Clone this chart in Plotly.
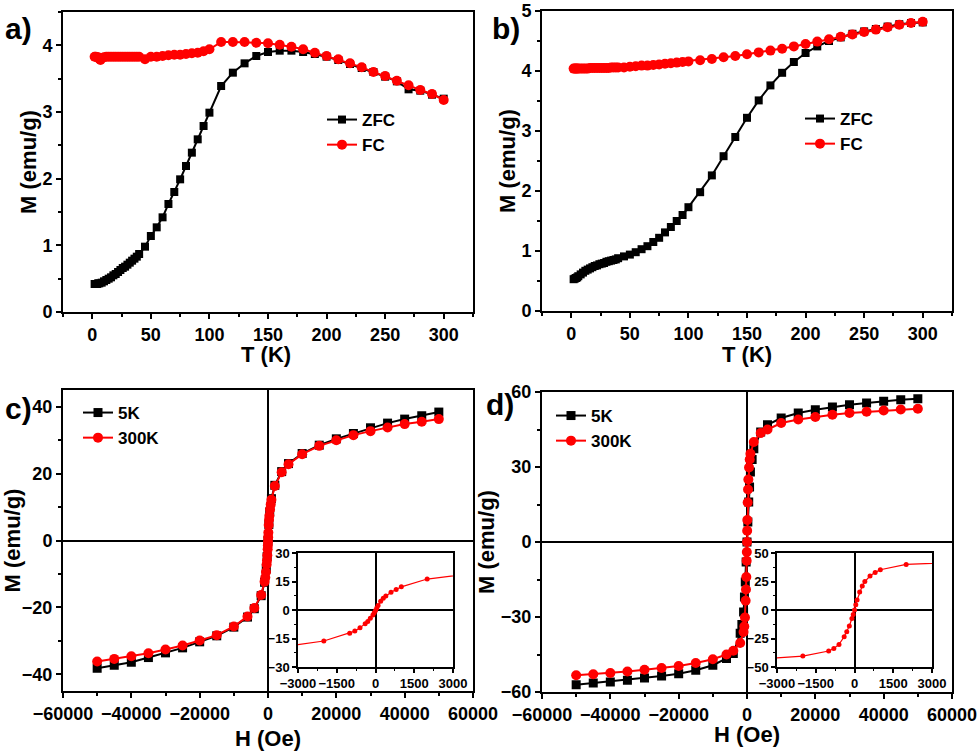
import plotly.graph_objects as go

# ====================================
# Data
# ====================================

# a) ZFC / FC, sample 1
T_a_zfc = [2, 3, 4, 5, 6, 8, 10, 12, 14, 16, 18, 20, 22, 24, 26, 28, 30, 32, 34, 36, 38, 40,
           45, 50, 55, 60, 65, 70, 75, 80, 85, 90, 95, 100, 110, 120, 130, 140, 150, 160,
           170, 180, 190, 200, 210, 220, 230, 240, 250, 260, 270, 280, 290, 300]
M_a_zfc = [0.42, 0.42, 0.42, 0.43, 0.43, 0.44, 0.46, 0.48, 0.50, 0.52, 0.55, 0.57, 0.60, 0.63,
           0.66, 0.68, 0.71, 0.74, 0.77, 0.80, 0.83, 0.87, 0.98, 1.14, 1.27, 1.42, 1.62, 1.80,
           1.99, 2.19, 2.39, 2.59, 2.79, 2.99, 3.39, 3.59, 3.73, 3.84, 3.90, 3.92, 3.92, 3.90,
           3.87, 3.83, 3.78, 3.72, 3.66, 3.60, 3.53, 3.46, 3.34, 3.32, 3.26, 3.20]

T_a_fc = [2, 3, 4, 5, 6, 7, 8, 10, 12, 14, 16, 18, 20, 22, 24, 26, 28, 30, 32, 34, 36, 38, 40,
          45, 50, 55, 60, 65, 70, 75, 80, 85, 90, 95, 100, 110, 120, 130, 140, 150, 160, 170,
          180, 190, 200, 210, 220, 230, 240, 250, 260, 270, 280, 290, 300]
M_a_fc = [3.83, 3.83, 3.82, 3.82, 3.80, 3.78, 3.81, 3.82, 3.83, 3.83, 3.83, 3.83, 3.83, 3.83,
          3.83, 3.83, 3.83, 3.83, 3.83, 3.83, 3.83, 3.83, 3.83, 3.79, 3.83, 3.83, 3.84, 3.85,
          3.86, 3.86, 3.87, 3.88, 3.89, 3.91, 3.94, 4.05, 4.05, 4.05, 4.04, 4.03, 4.01, 3.98,
          3.94, 3.89, 3.84, 3.79, 3.73, 3.67, 3.60, 3.54, 3.47, 3.40, 3.33, 3.27, 3.18]

# b) ZFC / FC, sample 2
T_b_zfc = [2, 3, 4, 5, 6, 8, 10, 12, 14, 16, 18, 20, 22, 24, 26, 28, 30, 32, 34, 36, 38, 40,
           45, 50, 55, 60, 65, 70, 75, 80, 85, 90, 95, 100, 110, 120, 130, 140, 150, 160,
           170, 180, 190, 200, 210, 220, 230, 240, 250, 260, 270, 280, 290, 300]
M_b_zfc = [0.53, 0.54, 0.55, 0.56, 0.58, 0.61, 0.64, 0.67, 0.69, 0.71, 0.73, 0.75, 0.76, 0.78,
           0.79, 0.80, 0.82, 0.83, 0.84, 0.85, 0.86, 0.88, 0.91, 0.94, 0.98, 1.03, 1.08, 1.15,
           1.22, 1.31, 1.40, 1.50, 1.60, 1.73, 1.98, 2.26, 2.58, 2.90, 3.22, 3.51, 3.76, 3.97,
           4.15, 4.30, 4.41, 4.50, 4.56, 4.62, 4.66, 4.70, 4.74, 4.78, 4.80, 4.81]

T_b_fc = [2, 3, 4, 5, 6, 8, 10, 12, 14, 16, 18, 20, 22, 24, 26, 28, 30, 32, 34, 36, 38, 40,
          45, 50, 55, 60, 65, 70, 75, 80, 85, 90, 95, 100, 110, 120, 130, 140, 150, 160,
          170, 180, 190, 200, 210, 220, 230, 240, 250, 260, 270, 280, 290, 300]
M_b_fc = [4.04, 4.04, 4.04, 4.04, 4.04, 4.04, 4.04, 4.04, 4.04, 4.05, 4.05, 4.05, 4.05, 4.05,
          4.05, 4.05, 4.05, 4.05, 4.06, 4.06, 4.06, 4.06, 4.06, 4.07, 4.08, 4.09, 4.09, 4.10,
          4.11, 4.12, 4.13, 4.14, 4.15, 4.16, 4.18, 4.20, 4.23, 4.25, 4.28, 4.31, 4.34, 4.37,
          4.41, 4.45, 4.49, 4.53, 4.57, 4.61, 4.65, 4.69, 4.73, 4.77, 4.80, 4.82]

# c) M-H, sample 1
H_c_5k = [-50000, -45000, -40000, -35000, -30000, -25000, -20000, -15000, -10000, -6000,
          -4000, -2000, -1000, -500, -250, 0, 250, 500, 1000, 2000, 4000, 6000, 10000, 15000,
          20000, 25000, 30000, 35000, 40000, 45000, 50000]
M_c_5k = [-38.2, -37.3, -36.4, -35.0, -33.6, -32.1, -30.3, -28.5, -25.9, -22.9, -20.4, -16.5,
          -12.5, -8.5, -4.8, 0.0, 4.8, 8.5, 12.5, 16.5, 20.6, 23.0, 26.0, 28.5, 30.4, 32.0,
          33.7, 35.1, 36.3, 37.3, 38.4]

H_c_300k = [-50000, -45000, -40000, -35000, -30000, -25000, -20000, -15000, -10000, -6000,
            -4000, -2000, -1000, -800, -600, -400, -300, -200, -100, -50, 0, 50, 100, 200,
            300, 400, 600, 800, 1000, 2000, 4000, 6000, 10000, 15000, 20000, 25000, 30000,
            35000, 40000, 45000, 50000]
M_c_300k = [-36.2, -35.4, -34.6, -33.7, -32.6, -31.4, -29.9, -28.3, -25.7, -22.7, -20.2, -16.3,
            -12.3, -11.1, -9.4, -7.2, -6.0, -4.4, -2.6, -1.5, -0.3, 1.0, 2.4, 4.6, 6.2, 7.4,
            9.3, 10.8, 12.2, 16.3, 20.4, 22.8, 25.8, 28.3, 30.0, 31.5, 32.7, 33.8, 34.8, 35.5,
            36.3]

# d) M-H, sample 2
H_d_5k = [-50000, -45000, -40000, -35000, -30000, -25000, -20000, -15000, -10000, -6000,
          -4000, -2000, -1500, -1000, -750, -500, -250, 0, 250, 500, 750, 1000, 1500, 2000,
          4000, 6000, 10000, 15000, 20000, 25000, 30000, 35000, 40000, 45000, 50000]
M_d_5k = [-57.1, -56.4, -56.0, -55.3, -54.4, -53.6, -52.7, -51.3, -49.3, -46.6, -44.6, -36.5,
          -33.0, -28.0, -22.0, -16.0, -8.0, 0.0, 8.0, 16.0, 22.0, 28.0, 33.0, 37.3, 44.0,
          46.9, 49.6, 51.6, 52.9, 54.0, 54.9, 55.6, 56.3, 56.9, 57.3]

H_d_300k = [-50000, -45000, -40000, -35000, -30000, -25000, -20000, -15000, -10000, -6000,
            -4000, -2000, -1000, -800, -600, -400, -300, -200, -100, -50, 0, 50, 100, 200,
            300, 400, 600, 800, 1000, 2000, 4000, 6000, 10000, 15000, 20000, 25000, 30000,
            35000, 40000, 45000, 50000]
M_d_300k = [-53.3, -52.9, -52.4, -51.8, -51.1, -50.4, -49.6, -48.4, -46.9, -45.0, -43.5, -40.4,
            -36.0, -33.8, -30.2, -23.5, -19.0, -14.0, -7.5, -4.0, 0.0, 4.5, 8.8, 15.8, 21.0,
            25.0, 29.8, 33.0, 35.3, 40.0, 43.6, 45.0, 47.6, 49.0, 50.0, 50.9, 51.6, 52.1,
            52.6, 53.0, 53.3]


# ====================================
# Layout helpers
# ====================================

W, H = 979, 751
FONT = "Liberation Sans, Arial, sans-serif"
RED = "#ff0000"


def px(x):
    return x / W


def py(y):
    return 1 - y / H


def bold(size):
    return dict(family=FONT, size=size, color="black", weight="bold")


def axis(rng, dtick, dom, anchor, size=18, ticklen=5, lw=2, zero=False, title=None):
    ax = dict(
        range=rng,
        dtick=dtick,
        tick0=0,
        domain=dom,
        anchor=anchor,
        automargin=False,
        showline=True,
        linecolor="black",
        linewidth=lw,
        mirror=True,
        ticks="outside",
        ticklen=ticklen,
        tickwidth=lw,
        tickcolor="black",
        tickangle=0,
        tickformat="d",
        tickprefix="<b>",
        ticksuffix="</b>",
        minor=dict(ticks="outside", dtick=dtick / 2, ticklen=ticklen / 2 + 0.5,
                   tickwidth=lw * 0.8, tickcolor="black"),
        showgrid=False,
        zeroline=zero,
        zerolinecolor="black",
        zerolinewidth=1.5,
        tickfont=bold(size),
    )
    if title:
        ax["title"] = dict(text=title, font=bold(22), standoff=0)
    return ax


def line_trace(x, y, name, color, symbol, size, xa, ya, legend=None, lw=2):
    return go.Scatter(
        x=x, y=y, name=name,
        mode="lines+markers",
        line=dict(color=color, width=lw),
        marker=dict(color=color, symbol=symbol, size=size),
        xaxis=xa, yaxis=ya,
        legend=legend,
        showlegend=legend is not None,
    )


fig = go.Figure()

# a)
fig.add_trace(line_trace(T_a_zfc, M_a_zfc, "ZFC", "black", "square", 8, "x", "y", "legend"))
fig.add_trace(line_trace(T_a_fc, M_a_fc, "FC", RED, "circle", 10, "x", "y", "legend"))
# b)
fig.add_trace(line_trace(T_b_zfc, M_b_zfc, "ZFC", "black", "square", 8, "x2", "y2", "legend2"))
fig.add_trace(line_trace(T_b_fc, M_b_fc, "FC", RED, "circle", 10, "x2", "y2", "legend2"))
# c)
fig.add_trace(line_trace(H_c_5k, M_c_5k, "5K", "black", "square", 9, "x3", "y3", "legend3"))
fig.add_trace(line_trace(H_c_300k, M_c_300k, "300K", RED, "circle", 10, "x3", "y3", "legend3"))
# d)
fig.add_trace(line_trace(H_d_5k, M_d_5k, "5K", "black", "square", 9, "x4", "y4", "legend4"))
fig.add_trace(line_trace(H_d_300k, M_d_300k, "300K", RED, "circle", 10, "x4", "y4", "legend4"))
# insets (300K only)
fig.add_trace(line_trace(H_c_300k, M_c_300k, "300K", RED, "circle", 5, "x5", "y5", lw=1.2))
fig.add_trace(line_trace(H_d_300k, M_d_300k, "300K", RED, "circle", 5, "x6", "y6", lw=1.2))

# domains in pixels -> paper
dom_a = ([px(63), px(473)], [py(312), py(12)])
dom_b = ([px(542), px(952)], [py(311), py(11)])
dom_c = ([px(63), px(473)], [py(691), py(390)])
dom_d = ([px(542), px(952)], [py(692), py(392)])
dom_ci = ([px(298), px(453)], [py(667), py(553)])
dom_di = ([px(777), px(932)], [py(667), py(553)])

MT = "M (emu/g)"
fig.update_layout(
    xaxis=axis([-25, 325], 50, dom_a[0], "y"),
    yaxis=axis([0, 4.5], 1, dom_a[1], "x", title=MT),
    xaxis2=axis([-25, 325], 50, dom_b[0], "y2"),
    yaxis2=axis([0, 5], 1, dom_b[1], "x2", title=MT),
    xaxis3=axis([-60000, 60000], 20000, dom_c[0], "y3", zero=True),
    yaxis3=axis([-45, 45], 20, dom_c[1], "x3", zero=True, title=MT),
    xaxis4=axis([-60000, 60000], 20000, dom_d[0], "y4", zero=True),
    yaxis4=axis([-60, 60], 30, dom_d[1], "x4", zero=True, title=MT),
    xaxis5=axis([-3000, 3000], 1500, dom_ci[0], "y5", size=13, ticklen=4, lw=1.5, zero=True),
    yaxis5=axis([-30, 30], 15, dom_ci[1], "x5", size=13, ticklen=4, lw=1.5, zero=True),
    xaxis6=axis([-3000, 3000], 1500, dom_di[0], "y6", size=13, ticklen=4, lw=1.5, zero=True),
    yaxis6=axis([-50, 50], 25, dom_di[1], "x6", size=13, ticklen=4, lw=1.5, zero=True),
)


def legend_box(x, y):
    return dict(
        x=px(x), y=py(y), xanchor="left", yanchor="top",
        bgcolor="rgba(0,0,0,0)", borderwidth=0,
        font=bold(17),
        itemwidth=30, tracegroupgap=0,
    )


fig.update_layout(
    legend=legend_box(322, 102),
    legend2=legend_box(800, 101),
    legend3=legend_box(78, 395),
    legend4=legend_box(551, 398),
)

# ====================================
# X axis titles and panel labels
# ====================================

notes = [
    ("T (K)", 266, 354),
    ("T (K)", 747, 354),
    ("H (Oe)", 268, 738),
    ("H (Oe)", 747, 734),
]
for text, x, y in notes:
    fig.add_annotation(
        text=text, x=px(x), y=py(y), xref="paper", yref="paper",
        xanchor="center", yanchor="middle", showarrow=False,
        font=bold(22),
    )

labels = [("a)", 3, 28), ("b)", 490, 28), ("c)", 3, 408), ("d)", 484, 405)]
for text, x, y in labels:
    fig.add_annotation(
        text=text, x=px(x), y=py(y), xref="paper", yref="paper",
        xanchor="left", yanchor="middle", showarrow=False,
        font=bold(30),
    )

fig.update_layout(
    width=W, height=H,
    autosize=False,
    margin=dict(l=0, r=0, t=0, b=0),
    paper_bgcolor="white",
    plot_bgcolor="white",
)

# page body has an 8px default margin; drop it so the figure fills the window
fig.write_html(
    "out.html",
    config={"displayModeBar": False},
    post_script="document.body.style.margin='0';document.body.style.overflow='hidden';",
)
